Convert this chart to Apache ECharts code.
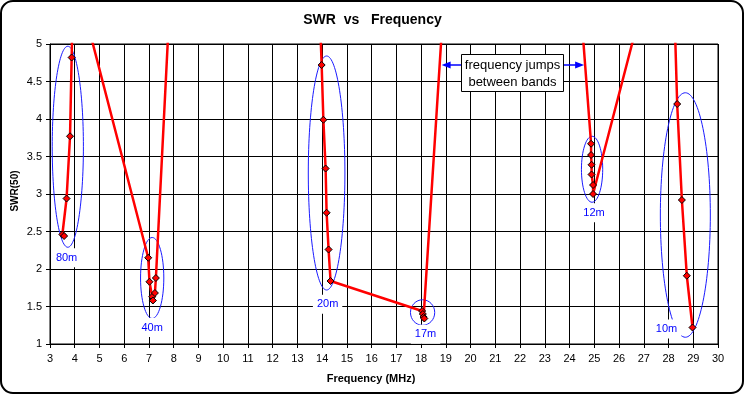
<!DOCTYPE html>
<html><head><meta charset="utf-8">
<script src="https://cdn.jsdelivr.net/npm/echarts@6/dist/echarts.min.js"></script>
<style>html,body{margin:0;padding:0;background:#fff}#c{width:745px;height:395px}</style>
</head><body><div id="c"></div>
<script>
// Measured sweep (frequency in MHz, SWR). Values above 5 lie off the top of the chart.
const freqMHz = [3.50, 3.57, 3.67, 3.81, 3.875, 3.95,
                 6.97, 7.02, 7.13, 7.16, 7.24, 7.28, 11.34,
                 13.98, 14.05, 14.14, 14.18, 14.26, 14.34,
                 18.04, 18.07, 18.10, 18.13, 21.44,
                 24.87, 24.87, 24.89, 24.89, 24.95, 24.95, 28.10,
                 28.35, 28.54, 28.74, 28.97];
const swr = [2.46, 2.44, 2.94, 3.77, 4.82, 6.0,
             2.15, 1.83, 1.63, 1.58, 1.68, 1.88, 28.5,
             4.72, 3.99, 3.34, 2.75, 2.26, 1.84,
             1.44, 1.40, 1.36, 1.34, 18.65,
             3.67, 3.52, 3.39, 3.26, 3.12, 3.00, 7.0,
             4.20, 2.92, 1.91, 1.22];

// Band ellipses and labels (data units)
const bandNames = ['80m', '40m', '20m', '17m', '12m', '10m'];
const ellipseCenterMHz = [3.72, 7.13, 14.18, 18.06, 24.91, 28.68];
const ellipseCenterSwr = [3.63, 1.88, 3.28, 1.42, 3.33, 2.72];
const ellipseRadiusMHz = [0.63, 0.47, 0.74, 0.49, 0.43, 1.01];
const ellipseRadiusSwr = [1.34, 0.54, 1.56, 0.17, 0.44, 1.63];
const labelMHz = [3.67, 7.13, 14.22, 18.18, 24.99, 27.92];
const labelSwr = [2.15, 1.22, 1.53, 1.13, 2.75, 1.20];

// Note box
const noteText = 'frequency jumps\nbetween bands';
const noteBoxMHz = [19.62, 23.74];
const noteBoxSwr = [4.867, 4.37];
const noteArrowMHz = [18.83, 24.59];
const noteArrowSwr = [4.724];

// Axes
const xMin = 3, xMax = 30, xStep = 1;
const yMin = 1, yMax = 5, yStep = 0.5;

const FONT = '"Liberation Sans", Arial, sans-serif';
const chart = echarts.init(document.getElementById('c'), null, {renderer: 'canvas'});

const axisCommon = {
  type: 'value',
  axisLine: {show: true, lineStyle: {color: '#000', width: 1}},
  axisTick: {show: true, length: 4, lineStyle: {color: '#000'}},
  axisLabel: {color: '#000', fontSize: 11, fontFamily: FONT},
  splitLine: {show: true, lineStyle: {color: '#000', width: 1}}
};

chart.setOption({
  animation: false,
  backgroundColor: '#fff',
  textStyle: {fontFamily: FONT},
  title: {
    text: 'SWR  vs   Frequency',
    left: 'center', top: 13, padding: 0,
    textStyle: {fontSize: 14, fontWeight: 'bold', color: '#000', fontFamily: FONT}
  },
  grid: {left: 50, right: 27, top: 44, bottom: 51, show: true, borderColor: '#000', borderWidth: 1},
  xAxis: Object.assign({}, axisCommon, {
    min: xMin, max: xMax, interval: xStep,
    axisLabel: Object.assign({}, axisCommon.axisLabel, {margin: 9})
  }),
  yAxis: Object.assign({}, axisCommon, {
    min: yMin, max: yMax, interval: yStep,
    axisLabel: Object.assign({}, axisCommon.axisLabel, {margin: 8})
  }),
  graphic: [
    {type: 'rect', z: -10, shape: {x: 1, y: 1, width: 742, height: 392, r: 12},
     style: {fill: 'none', stroke: '#000', lineWidth: 2}},
    {type: 'text', x: 371, y: 379,
     style: {text: 'Frequency (MHz)', align: 'center', verticalAlign: 'middle',
             font: 'bold 11px ' + FONT, fill: '#000'}},
    {type: 'text', x: 15, y: 191, rotation: Math.PI / 2,
     style: {text: 'SWR(50)', align: 'center', verticalAlign: 'middle',
             font: 'bold 10px ' + FONT, fill: '#000'}}
  ],
  series: [
    {
      type: 'custom', z: 2, silent: true,
      dimensions: ['cx', 'cy', 'rx', 'ry', 'lx', 'ly'],
      encode: {x: 0, y: 1},
      data: bandNames.map((n, i) => [ellipseCenterMHz[i], ellipseCenterSwr[i], ellipseRadiusMHz[i],
                                    ellipseRadiusSwr[i], labelMHz[i], labelSwr[i]]),
      renderItem: function (params, api) {
        const i = params.dataIndex;
        const c = api.coord([api.value(0), api.value(1)]);
        const e = api.coord([api.value(0) + api.value(2), api.value(1) + api.value(3)]);
        const l = api.coord([api.value(4), api.value(5)]);
        return {
          type: 'group',
          children: [
            {type: 'ellipse', shape: {cx: c[0], cy: c[1], rx: Math.abs(e[0] - c[0]), ry: Math.abs(c[1] - e[1])},
             style: {fill: 'none', stroke: '#1a1aff', lineWidth: 1}},
            {type: 'text', x: l[0], y: l[1],
             style: {text: bandNames[i], align: 'center', verticalAlign: 'middle', fill: '#0000ff',
                     font: '11px ' + FONT, backgroundColor: '#fff', padding: [4, 4]}}
          ]
        };
      }
    },
    {
      type: 'line', z: 3, clip: true,
      data: freqMHz.map((f, i) => [f, swr[i]]),
      symbol: 'diamond', symbolSize: 7,
      itemStyle: {color: '#ff0000', borderColor: '#000', borderWidth: 1},
      lineStyle: {color: '#ff0000', width: 2.5},
      emphasis: {disabled: true}
    },
    {
      type: 'custom', z: 4, silent: true,
      encode: {x: 0, y: 1},
      data: [[noteBoxMHz[0], noteBoxSwr[0], noteBoxMHz[1], noteBoxSwr[1], noteArrowMHz[0], noteArrowMHz[1], noteArrowSwr[0]]],
      renderItem: function (params, api) {
        const a = api.coord([api.value(0), api.value(1)]);
        const b = api.coord([api.value(2), api.value(3)]);
        const la = api.coord([api.value(4), api.value(6)]);
        const ra = api.coord([api.value(5), api.value(6)]);
        const x0 = Math.round(a[0]) + 0.5, y0 = Math.round(a[1]) + 0.5;
        const x1 = Math.round(b[0]) + 0.5, y1 = Math.round(b[1]) + 0.5;
        const ay = Math.round(la[1]);
        const blue = '#0000ff';
        return {
          type: 'group',
          children: [
            {type: 'line', shape: {x1: x0, y1: ay, x2: la[0] + 8, y2: ay}, style: {stroke: blue, lineWidth: 1.5}},
            {type: 'polygon', shape: {points: [[la[0], ay], [la[0] + 9, ay - 3.5], [la[0] + 9, ay + 3.5]]}, style: {fill: blue}},
            {type: 'line', shape: {x1: x1, y1: ay, x2: ra[0] - 8, y2: ay}, style: {stroke: blue, lineWidth: 1.5}},
            {type: 'polygon', shape: {points: [[ra[0], ay], [ra[0] - 9, ay - 3.5], [ra[0] - 9, ay + 3.5]]}, style: {fill: blue}},
            {type: 'rect', shape: {x: x0, y: y0, width: x1 - x0, height: y1 - y0},
             style: {fill: '#fff', stroke: '#000', lineWidth: 1}},
            {type: 'text', x: (x0 + x1) / 2, y: (y0 + y1) / 2 + 0.5,
             style: {text: noteText, align: 'center', verticalAlign: 'middle', fill: '#000',
                     font: '13px ' + FONT, lineHeight: 17}}
          ]
        };
      }
    }
  ]
});
</script>
</body></html>
